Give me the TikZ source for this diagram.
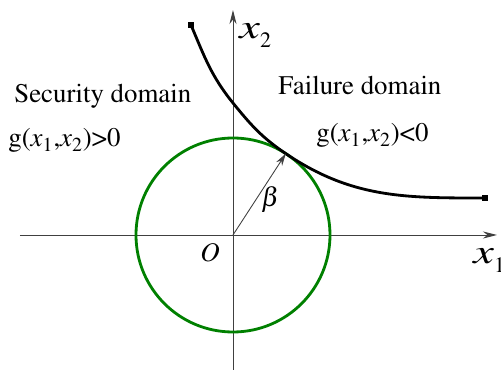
\documentclass[tikz,border=0pt]{standalone}
\usepackage[T1]{fontenc}
\usepackage{mathptmx}
\usetikzlibrary{arrows.meta}
\newcommand{\axv}[1]{\scalebox{1.35}[1]{$x$}\raisebox{-4.8pt}{\fontsize{12.5}{14}\selectfont #1}}
\begin{document}
\begin{tikzpicture}[x=0.02cm, y=0.02cm, every node/.style={font=\fontsize{15.3}{18}\selectfont, inner sep=0pt}, axis/.style={draw=black!75, line width=0.55pt, -{Stealth[length=8pt, width=4pt]}}, limit/.style={line width=1.6pt}, endmark/.style={fill, minimum size=3pt, inner sep=0pt}, axlabel/.style={font=\fontsize{19.5}{22}\selectfont, anchor=base west}]
\useasboundingbox (-233,-137) rectangle (268,235);
\coordinate (O) at (0,0);
\coordinate (xl) at (-213,0);
\coordinate (xr) at (264,0);
\coordinate (yb) at (0,-135);
\coordinate (yt) at (0,225);
\coordinate (T) at (57:97);
\coordinate (c) at (0,132);
\draw[axis] (xl) -- (xr);
\draw[axis] (yb) -- (yt);
\draw[green!50!black, line width=1.6pt] (O) circle (97);
\node[endmark] (s) at (-42,210) {};
\node[endmark] (e) at (252,37) {};
\draw[limit] (s.center) to[out=-67, in=129] (c) to[out=-51, in=146] (T) to[out=-34, in=180] (e.center);
\draw[draw=black!75, line width=0.5pt, -{Stealth[length=7pt, width=4pt]}] (O) -- (T);
\node[axlabel] (lx2) at (6,196) {\axv{2}};
\node[axlabel] (lx1) at (240,-29) {\axv{1}};
\node[anchor=base west] (lo) at (-33,-27) {$O$};
\node (lb) at (37.5,35.5) {$\beta$};
\node[anchor=base west] (sd) at (-219,132) {Security domain};
\node[anchor=base west] (gs) at (-225,88) {g($x_1$,$x_2$)>0};
\node[anchor=base west] (fd) at (45,140) {Failure domain};
\node[anchor=base west] (gf) at (83,93) {g($x_1$,$x_2$)<0};
\end{tikzpicture}
\end{document}
